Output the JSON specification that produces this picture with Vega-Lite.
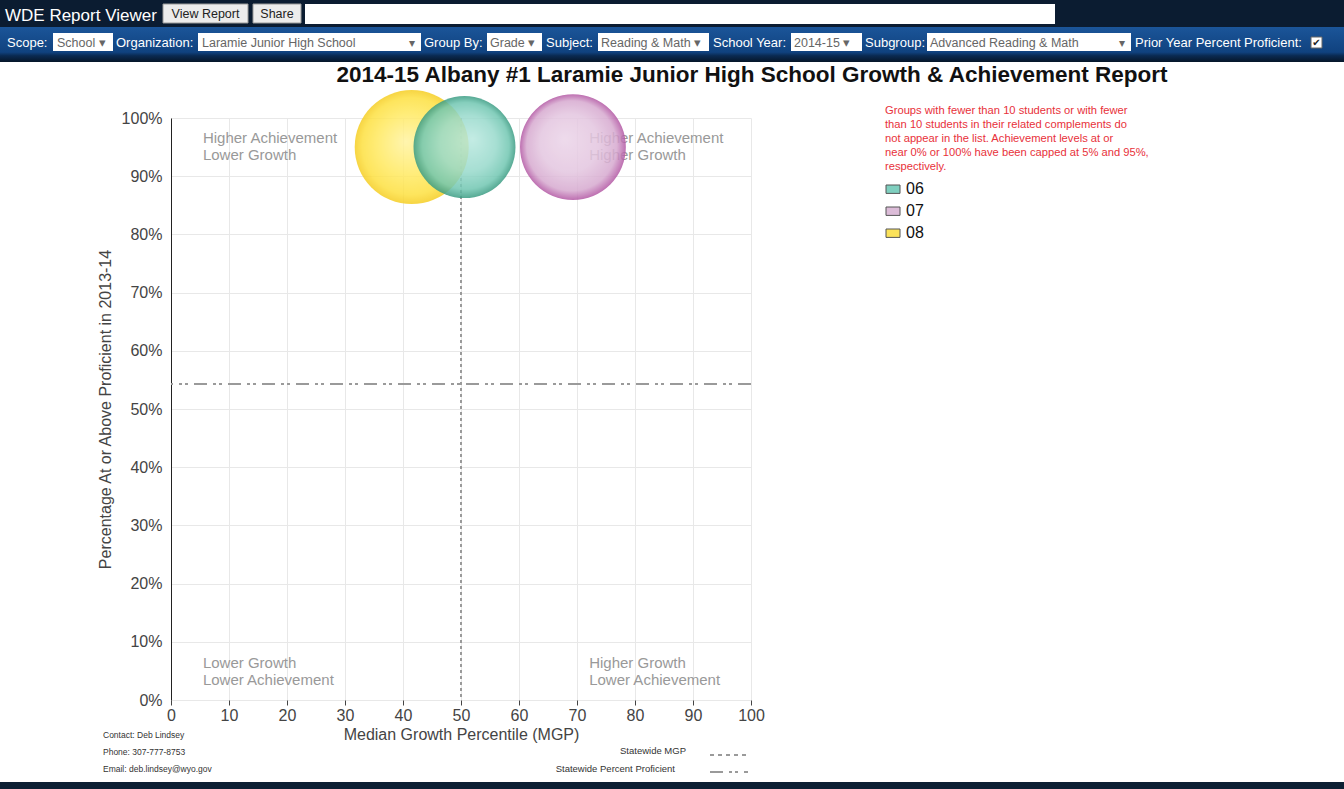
{
  "$schema": "https://vega.github.io/schema/vega-lite/v6.json",
  "background": "white",
  "autosize": {"type": "none"},
  "padding": {"left": 171, "top": 118, "right": 593, "bottom": 89},
  "width": 580,
  "height": 582,
  "config": {
    "font": "Liberation Sans",
    "view": {"stroke": null},
    "axisX": {"grid": true, "gridColor": "#e8e8e8", "domain": false, "ticks": true, "tickColor": "#444", "tickSize": 5, "labelFlush": false, "labelFontSize": 16, "labelColor": "#444", "labelPadding": 2, "titleFontSize": 16, "titleFontWeight": "normal", "titleColor": "#444", "titlePadding": 3},
    "axisY": {"grid": true, "gridColor": "#e8e8e8", "domain": true, "domainColor": "#222", "domainWidth": 1, "ticks": false, "labelFlush": false, "labelPadding": 9, "labelFontSize": 16, "labelColor": "#444", "labelExpr": "datum.value + '%'", "titleFontSize": 16, "titleFontWeight": "normal", "titleColor": "#444", "titlePadding": 8}
  },
  "layer": [
    {"data": {"values": [{}]}, "mark": {"type": "rect", "color": "#0b1c31"}, "encoding": {"x": {"value": -171}, "x2": {"value": 1173}, "y": {"value": -118}, "y2": {"value": -91}}},
    {"data": {"values": [{}]}, "mark": {"type": "text", "text": "WDE Report Viewer", "align": "left", "baseline": "middle", "color": "white", "fontSize": 17}, "encoding": {"x": {"value": -166}, "y": {"value": -102}}},
    {"data": {"values": [{}]}, "mark": {"type": "rect", "color": "#ececec", "stroke": "#999", "strokeWidth": 1}, "encoding": {"x": {"value": -8}, "x2": {"value": 77}, "y": {"value": -114}, "y2": {"value": -95}}},
    {"data": {"values": [{}]}, "mark": {"type": "text", "text": "View Report", "align": "center", "baseline": "middle", "color": "#222", "fontSize": 12.5}, "encoding": {"x": {"value": 34.5}, "y": {"value": -104.5}}},
    {"data": {"values": [{}]}, "mark": {"type": "rect", "color": "#ececec", "stroke": "#999", "strokeWidth": 1}, "encoding": {"x": {"value": 82}, "x2": {"value": 130}, "y": {"value": -114}, "y2": {"value": -95}}},
    {"data": {"values": [{}]}, "mark": {"type": "text", "text": "Share", "align": "center", "baseline": "middle", "color": "#222", "fontSize": 12.5}, "encoding": {"x": {"value": 106}, "y": {"value": -104.5}}},
    {"data": {"values": [{}]}, "mark": {"type": "rect", "color": "white"}, "encoding": {"x": {"value": 134}, "x2": {"value": 884}, "y": {"value": -114}, "y2": {"value": -94}}},

    {"data": {"values": [{}]}, "mark": {"type": "rect", "fill": {"gradient": "linear", "x1": 0, "y1": 0, "x2": 0, "y2": 1, "stops": [{"offset": 0, "color": "#1b5599"}, {"offset": 0.72, "color": "#10427f"}, {"offset": 0.82, "color": "#0a2a52"}, {"offset": 1, "color": "#061629"}]}}, "encoding": {"x": {"value": -171}, "x2": {"value": 1173}, "y": {"value": -91}, "y2": {"value": -56}}},
    {"data": {"values": [{}]}, "mark": {"type": "rect", "color": "white"}, "encoding": {"x": {"value": -118}, "x2": {"value": -58}, "y": {"value": -85}, "y2": {"value": -67}}},
    {"data": {"values": [{}]}, "mark": {"type": "rect", "color": "white"}, "encoding": {"x": {"value": 27}, "x2": {"value": 250}, "y": {"value": -85}, "y2": {"value": -67}}},
    {"data": {"values": [{}]}, "mark": {"type": "rect", "color": "white"}, "encoding": {"x": {"value": 316}, "x2": {"value": 371}, "y": {"value": -85}, "y2": {"value": -67}}},
    {"data": {"values": [{}]}, "mark": {"type": "rect", "color": "white"}, "encoding": {"x": {"value": 427}, "x2": {"value": 538}, "y": {"value": -85}, "y2": {"value": -67}}},
    {"data": {"values": [{}]}, "mark": {"type": "rect", "color": "white"}, "encoding": {"x": {"value": 620}, "x2": {"value": 691}, "y": {"value": -85}, "y2": {"value": -67}}},
    {"data": {"values": [{}]}, "mark": {"type": "rect", "color": "white"}, "encoding": {"x": {"value": 756}, "x2": {"value": 960}, "y": {"value": -85}, "y2": {"value": -67}}},
    {"data": {"values": [{}]}, "mark": {"type": "rect", "color": "white", "stroke": "#666"}, "encoding": {"x": {"value": 1140}, "x2": {"value": 1151}, "y": {"value": -81}, "y2": {"value": -70}}},
    {"data": {"values": [{}]}, "mark": {"type": "text", "text": "✔", "align": "center", "baseline": "middle", "color": "#222", "fontSize": 10, "font": "DejaVu Sans"}, "encoding": {"x": {"value": 1145.5}, "y": {"value": -75.5}}},
    {"data": {"values": [{}]}, "mark": {"type": "text", "text": "Scope:", "align": "left", "baseline": "middle", "color": "white", "fontSize": 13}, "encoding": {"x": {"value": -164}, "y": {"value": -75}}},
    {"data": {"values": [{}]}, "mark": {"type": "text", "text": "School ▾", "align": "left", "baseline": "middle", "color": "#666", "fontSize": 12.5}, "encoding": {"x": {"value": -114}, "y": {"value": -75}}},
    {"data": {"values": [{}]}, "mark": {"type": "text", "text": "Organization:", "align": "left", "baseline": "middle", "color": "white", "fontSize": 13}, "encoding": {"x": {"value": -55}, "y": {"value": -75}}},
    {"data": {"values": [{}]}, "mark": {"type": "text", "text": "Laramie Junior High School", "align": "left", "baseline": "middle", "color": "#666", "fontSize": 12.5}, "encoding": {"x": {"value": 31}, "y": {"value": -75}}},
    {"data": {"values": [{}]}, "mark": {"type": "text", "text": "▾", "align": "center", "baseline": "middle", "color": "#666", "fontSize": 12}, "encoding": {"x": {"value": 241}, "y": {"value": -75}}},
    {"data": {"values": [{}]}, "mark": {"type": "text", "text": "Group By:", "align": "left", "baseline": "middle", "color": "white", "fontSize": 13}, "encoding": {"x": {"value": 253}, "y": {"value": -75}}},
    {"data": {"values": [{}]}, "mark": {"type": "text", "text": "Grade ▾", "align": "left", "baseline": "middle", "color": "#666", "fontSize": 12.5}, "encoding": {"x": {"value": 319}, "y": {"value": -75}}},
    {"data": {"values": [{}]}, "mark": {"type": "text", "text": "Subject:", "align": "left", "baseline": "middle", "color": "white", "fontSize": 13}, "encoding": {"x": {"value": 375}, "y": {"value": -75}}},
    {"data": {"values": [{}]}, "mark": {"type": "text", "text": "Reading & Math ▾", "align": "left", "baseline": "middle", "color": "#666", "fontSize": 12.5}, "encoding": {"x": {"value": 430}, "y": {"value": -75}}},
    {"data": {"values": [{}]}, "mark": {"type": "text", "text": "School Year:", "align": "left", "baseline": "middle", "color": "white", "fontSize": 13}, "encoding": {"x": {"value": 542}, "y": {"value": -75}}},
    {"data": {"values": [{}]}, "mark": {"type": "text", "text": "2014-15 ▾", "align": "left", "baseline": "middle", "color": "#666", "fontSize": 12.5}, "encoding": {"x": {"value": 623}, "y": {"value": -75}}},
    {"data": {"values": [{}]}, "mark": {"type": "text", "text": "Subgroup:", "align": "left", "baseline": "middle", "color": "white", "fontSize": 13}, "encoding": {"x": {"value": 694}, "y": {"value": -75}}},
    {"data": {"values": [{}]}, "mark": {"type": "text", "text": "Advanced Reading & Math", "align": "left", "baseline": "middle", "color": "#666", "fontSize": 12.5}, "encoding": {"x": {"value": 759}, "y": {"value": -75}}},
    {"data": {"values": [{}]}, "mark": {"type": "text", "text": "▾", "align": "center", "baseline": "middle", "color": "#666", "fontSize": 12}, "encoding": {"x": {"value": 951}, "y": {"value": -75}}},
    {"data": {"values": [{}]}, "mark": {"type": "text", "text": "Prior Year Percent Proficient:", "align": "left", "baseline": "middle", "color": "white", "fontSize": 13}, "encoding": {"x": {"value": 964}, "y": {"value": -75}}},

    {"data": {"values": [{}]}, "mark": {"type": "text", "text": "2014-15 Albany #1 Laramie Junior High School Growth & Achievement Report", "align": "center", "baseline": "middle", "fontSize": 22.5, "fontWeight": "bold", "color": "#111"}, "encoding": {"x": {"value": 581}, "y": {"value": -43}}},

    {
      "data": {"values": [{"statewide_mgp": 50, "statewide_pct": 54.3}]},
      "mark": {"type": "rule", "color": "#9a9a9a", "strokeWidth": 2, "strokeDash": [3, 3]},
      "encoding": {
        "x": {"field": "statewide_mgp", "type": "quantitative", "title": "Median Growth Percentile (MGP)", "scale": {"domain": [0, 100], "nice": false}, "axis": {"values": [0, 10, 20, 30, 40, 50, 60, 70, 80, 90, 100]}}
      }
    },
    {
      "data": {"values": [{"statewide_mgp": 50, "statewide_pct": 54.3}]},
      "mark": {"type": "rule", "color": "#9a9a9a", "strokeWidth": 2, "strokeDash": [13, 6, 3, 3, 3, 6]},
      "encoding": {
        "y": {"field": "statewide_pct", "type": "quantitative", "title": "Percentage At or Above Proficient in 2013-14", "scale": {"domain": [0, 100], "nice": false}, "axis": {"values": [0, 10, 20, 30, 40, 50, 60, 70, 80, 90, 100]}}
      }
    },
    {
      "data": {"values": [
        {"quadrant": "Higher Achievement\nLower Growth", "mgp": 5.5, "pct": 97.7},
        {"quadrant": "Higher Achievement\nHigher Growth", "mgp": 72.1, "pct": 97.7},
        {"quadrant": "Lower Growth\nLower Achievement", "mgp": 5.5, "pct": 7.5},
        {"quadrant": "Higher Growth\nLower Achievement", "mgp": 72.1, "pct": 7.5}
      ]},
      "mark": {"type": "text", "align": "left", "baseline": "top", "fontSize": 15, "color": "#999", "lineBreak": "\n", "lineHeight": 17},
      "encoding": {
        "x": {"field": "mgp", "type": "quantitative", "title": "Median Growth Percentile (MGP)", "axis": {"values": [0, 10, 20, 30, 40, 50, 60, 70, 80, 90, 100]}},
        "y": {"field": "pct", "type": "quantitative", "title": "Percentage At or Above Proficient in 2013-14", "axis": {"values": [0, 10, 20, 30, 40, 50, 60, 70, 80, 90, 100]}},
        "text": {"field": "quadrant", "type": "nominal"}
      }
    },
    {
      "data": {"values": [
        {"grade": "08", "mgp": 41.5, "pct": 95, "students": 130},
        {"grade": "06", "mgp": 50.6, "pct": 95, "students": 104},
        {"grade": "07", "mgp": 69.3, "pct": 95, "students": 112}
      ]},
      "layer": [
        {
          "mark": {"type": "point", "filled": true, "size": 0, "opacity": 1},
          "encoding": {
            "x": {"field": "mgp", "type": "quantitative", "title": "Median Growth Percentile (MGP)", "axis": {"values": [0, 10, 20, 30, 40, 50, 60, 70, 80, 90, 100]}},
            "y": {"field": "pct", "type": "quantitative", "title": "Percentage At or Above Proficient in 2013-14", "axis": {"values": [0, 10, 20, 30, 40, 50, 60, 70, 80, 90, 100]}},
            "color": {"field": "grade", "type": "nominal",
              "scale": {"domain": ["06", "07", "08"], "range": ["#7fcfbf", "#dcbcd8", "#fbe25a"]},
              "legend": {
                "orient": "none", "legendX": 714, "legendY": -13,
                "title": ["Groups with fewer than 10 students or with fewer", "than 10 students in their related complements do", "not appear in the list. Achievement levels at or", "near 0% or 100% have been capped at 5% and 95%,", "respectively."],
                "titleColor": "#e8313a", "titleFontSize": 11.2, "titleFontWeight": "normal", "titleLineHeight": 14, "titleLimit": 400, "titlePadding": 9,
                "symbolType": "M-1,-0.6H1V0.6H-1Z", "symbolSize": 196, "symbolStrokeColor": "#555", "symbolStrokeWidth": 1, "symbolOpacity": 1,
                "labelFontSize": 16, "labelColor": "#111", "labelOffset": 5, "rowPadding": 6
              }}
          }
        },
        {
          "transform": [{"filter": "datum.grade == '08'"}],
          "mark": {"type": "point", "filled": true, "opacity": 0.85, "fill": {"gradient": "radial", "x1": 0.45, "y1": 0.45, "r1": 0, "x2": 0.5, "y2": 0.5, "r2": 0.5, "stops": [{"offset": 0, "color": "#fff3a0"}, {"offset": 0.55, "color": "#ffe960"}, {"offset": 0.85, "color": "#fde040"}, {"offset": 1, "color": "#f5cd22"}]}},
          "encoding": {
            "x": {"field": "mgp", "type": "quantitative", "title": "Median Growth Percentile (MGP)", "axis": {"values": [0, 10, 20, 30, 40, 50, 60, 70, 80, 90, 100]}},
            "y": {"field": "pct", "type": "quantitative", "title": "Percentage At or Above Proficient in 2013-14", "axis": {"values": [0, 10, 20, 30, 40, 50, 60, 70, 80, 90, 100]}},
            "size": {"field": "students", "type": "quantitative", "scale": {"domain": [0, 100], "range": [0, 10000]}, "legend": null}
          }
        },
        {
          "transform": [{"filter": "datum.grade == '06'"}],
          "mark": {"type": "point", "filled": true, "opacity": 0.85, "fill": {"gradient": "radial", "x1": 0.58, "y1": 0.42, "r1": 0, "x2": 0.5, "y2": 0.5, "r2": 0.5, "stops": [{"offset": 0, "color": "#b9e8df"}, {"offset": 0.55, "color": "#97d9cb"}, {"offset": 0.85, "color": "#70c6b1"}, {"offset": 1, "color": "#3a9b82"}]}},
          "encoding": {
            "x": {"field": "mgp", "type": "quantitative", "title": "Median Growth Percentile (MGP)", "axis": {"values": [0, 10, 20, 30, 40, 50, 60, 70, 80, 90, 100]}},
            "y": {"field": "pct", "type": "quantitative", "title": "Percentage At or Above Proficient in 2013-14", "axis": {"values": [0, 10, 20, 30, 40, 50, 60, 70, 80, 90, 100]}},
            "size": {"field": "students", "type": "quantitative", "legend": null}
          }
        },
        {
          "transform": [{"filter": "datum.grade == '07'"}],
          "mark": {"type": "point", "filled": true, "opacity": 0.85, "fill": {"gradient": "radial", "x1": 0.42, "y1": 0.42, "r1": 0, "x2": 0.5, "y2": 0.5, "r2": 0.5, "stops": [{"offset": 0, "color": "#ebd4e8"}, {"offset": 0.55, "color": "#e3c5df"}, {"offset": 0.85, "color": "#d6a9cf"}, {"offset": 1, "color": "#b256a3"}]}},
          "encoding": {
            "x": {"field": "mgp", "type": "quantitative", "title": "Median Growth Percentile (MGP)", "axis": {"values": [0, 10, 20, 30, 40, 50, 60, 70, 80, 90, 100]}},
            "y": {"field": "pct", "type": "quantitative", "title": "Percentage At or Above Proficient in 2013-14", "axis": {"values": [0, 10, 20, 30, 40, 50, 60, 70, 80, 90, 100]}},
            "size": {"field": "students", "type": "quantitative", "legend": null}
          }
        }
      ]
    },

    {"data": {"values": [{}]}, "mark": {"type": "text", "text": "Contact: Deb Lindsey", "align": "left", "baseline": "middle", "fontSize": 8.5, "color": "#333"}, "encoding": {"x": {"value": -68}, "y": {"value": 617}}},
    {"data": {"values": [{}]}, "mark": {"type": "text", "text": "Phone: 307-777-8753", "align": "left", "baseline": "middle", "fontSize": 8.5, "color": "#333"}, "encoding": {"x": {"value": -68}, "y": {"value": 634}}},
    {"data": {"values": [{}]}, "mark": {"type": "text", "text": "Email: deb.lindsey@wyo.gov", "align": "left", "baseline": "middle", "fontSize": 8.5, "color": "#333"}, "encoding": {"x": {"value": -68}, "y": {"value": 651}}},
    {"data": {"values": [{}]}, "mark": {"type": "text", "text": "Statewide MGP", "align": "right", "baseline": "middle", "fontSize": 9.5, "color": "#333"}, "encoding": {"x": {"value": 515}, "y": {"value": 633}}},
    {"data": {"values": [{}]}, "mark": {"type": "text", "text": "Statewide Percent Proficient", "align": "right", "baseline": "middle", "fontSize": 9.5, "color": "#333"}, "encoding": {"x": {"value": 504}, "y": {"value": 651}}},
    {"data": {"values": [{}]}, "mark": {"type": "rule", "color": "#9a9a9a", "strokeWidth": 2, "strokeDash": [4, 4]}, "encoding": {"x": {"value": 539}, "x2": {"value": 577}, "y": {"value": 637}}},
    {"data": {"values": [{}]}, "mark": {"type": "rule", "color": "#9a9a9a", "strokeWidth": 2, "strokeDash": [13, 6, 3, 3, 3, 6]}, "encoding": {"x": {"value": 539}, "x2": {"value": 577}, "y": {"value": 654}}},
    {"data": {"values": [{}]}, "mark": {"type": "rect", "color": "#0c1f33"}, "encoding": {"x": {"value": -171}, "x2": {"value": 1173}, "y": {"value": 664}, "y2": {"value": 671}}}
  ]
}
